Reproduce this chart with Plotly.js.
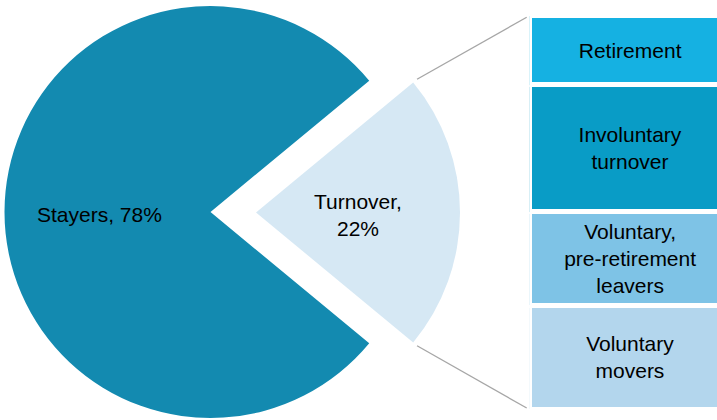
<!DOCTYPE html>
<html><head><meta charset="utf-8">
<script src="https://cdn.plot.ly/plotly-3.0.1.min.js"></script>
<style>html,body{margin:0;padding:0;background:#fff}#chart{width:717px;height:420px}</style>
</head><body><div id="chart"></div>
<script>
// ---- data ----
const pieLabels = ['Turnover', 'Stayers'];
const pieValues = [22, 78];
const pieColors = ['#D6E8F4', '#138AB0'];

const turnoverLabels = ['Retirement', 'Involuntary<br>turnover', 'Voluntary,<br>pre-retirement<br>leavers', 'Voluntary<br>movers'];
const turnoverShares = [17.6, 32.2, 23.8, 26.4];
const turnoverColors = ['#15B1E2', '#099CC6', '#7EC3E6', '#B3D6ED'];

// ---- layout geometry ----
const W = 717, H = 420;
const FONT = 'Liberation Sans, Arial, sans-serif';
const stay = {cx: 210.5, cy: 212, r: 206};
const turn = {cx: 256, cy: 212.5, r: 204};
const barLeft = 529.2, barW = 202, barTop = 15.7, barBottom = 409.3;

function pieDomain(g) {
  return {x: [(g.cx - g.r) / W, (g.cx + g.r) / W], y: [1 - (g.cy + g.r) / H, 1 - (g.cy - g.r) / H]};
}
const total = pieValues.reduce((a, b) => a + b, 0);
const halfTurn = pieValues[0] / total * 180;
const rotation = 90 - halfTurn;

function pieTrace(g, showIdx) {
  return {
    type: 'pie', labels: pieLabels, values: pieValues, sort: false,
    direction: 'clockwise', rotation: rotation,
    marker: {colors: pieColors.map((c, i) => i === showIdx ? c : 'rgba(0,0,0,0)'), line: {width: 0}},
    textinfo: 'none', hoverinfo: 'skip', showlegend: false, domain: pieDomain(g)
  };
}

const traces = [pieTrace(stay, 1), pieTrace(turn, 0)];
for (let i = turnoverShares.length - 1; i >= 0; i--) {
  traces.push({
    type: 'bar', x: [0], y: [turnoverShares[i]], width: [1],
    marker: {color: turnoverColors[i], line: {color: '#ffffff', width: 5}},
    text: [turnoverLabels[i]], textposition: 'inside', insidetextanchor: 'middle',
    textangle: 0, constraintext: 'none',
    textfont: {family: FONT, size: 21, color: '#000000'},
    hoverinfo: 'skip', showlegend: false
  });
}

const shareTotal = turnoverShares.reduce((a, b) => a + b, 0);
const px = x => x / W, py = y => 1 - y / H;
const th = halfTurn * Math.PI / 180, rOut = turn.r + 5;
const cTop = [turn.cx + rOut * Math.cos(th), turn.cy - rOut * Math.sin(th)];
const cBot = [turn.cx + rOut * Math.cos(th), turn.cy + rOut * Math.sin(th)];
const lineStyle = {color: '#A6A6A6', width: 1.3};

const layout = {
  width: W, height: H, margin: {l: 0, r: 0, t: 0, b: 0},
  paper_bgcolor: '#fff', plot_bgcolor: 'rgba(0,0,0,0)',
  barmode: 'stack', showlegend: false,
  font: {family: FONT, size: 21, color: '#000'},
  xaxis: {domain: [barLeft / W, 1], range: [-0.5, -0.5 + (W - barLeft) / barW], visible: false, fixedrange: true},
  yaxis: {domain: [1 - barBottom / H, 1 - barTop / H], range: [0, shareTotal], visible: false, fixedrange: true},
  shapes: [
    {type: 'line', xref: 'paper', yref: 'paper', x0: px(cTop[0]), y0: py(cTop[1]), x1: px(barLeft - 2.5), y1: py(barTop + 1.6), line: lineStyle},
    {type: 'line', xref: 'paper', yref: 'paper', x0: px(cBot[0]), y0: py(cBot[1]), x1: px(barLeft - 2.5), y1: py(barBottom - 1.3), line: lineStyle}
  ],
  annotations: [
    {xref: 'paper', yref: 'paper', x: px(stay.cx - 0.54 * stay.r), y: py(215), xanchor: 'center', yanchor: 'middle',
     text: pieLabels[1] + ', ' + pieValues[1] + '%', showarrow: false, font: {family: FONT, size: 21, color: '#000'}},
    {xref: 'paper', yref: 'paper', x: px(turn.cx + 0.50 * turn.r), y: py(215), xanchor: 'center', yanchor: 'middle',
     text: pieLabels[0] + ',<br>' + pieValues[0] + '%', showarrow: false, font: {family: FONT, size: 21, color: '#000'}}
  ]
};

Plotly.newPlot('chart', traces, layout, {staticPlot: true, displayModeBar: false});
</script>
</body></html>
